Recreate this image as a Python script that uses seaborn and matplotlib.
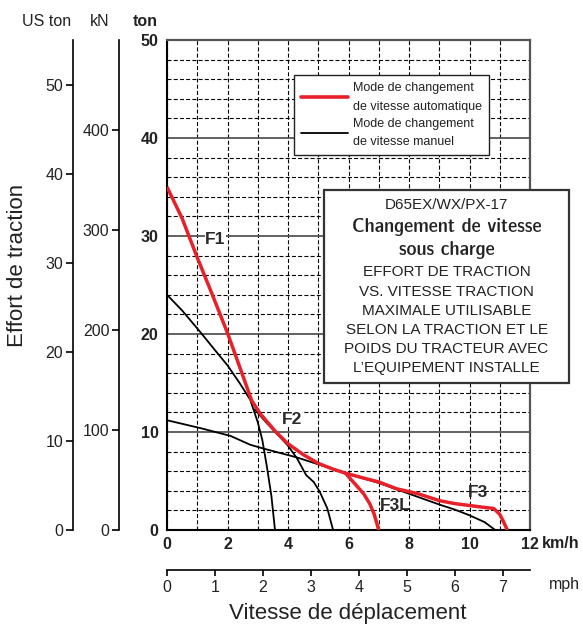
import seaborn as sns
import matplotlib.pyplot as plt
from matplotlib.lines import Line2D
from matplotlib.patches import Rectangle
from matplotlib.ticker import MultipleLocator
from matplotlib import font_manager

# curves: speed in km/h, traction effort in metric ton
auto_x = [0, 0.5, 1.0, 1.5, 2.0, 2.5, 2.8, 3.1, 3.6, 4.0, 4.5, 5.0, 5.5, 5.9,
          6.5, 7.0, 7.6, 8.3, 9.0, 9.5, 10.0, 10.5, 10.8, 11.0, 11.1, 11.25]
auto_y = [35, 31.8, 27.8, 24.0, 20.1, 15.8, 13.2, 11.8, 10.0, 8.8, 7.7, 6.8, 6.2, 5.8,
          5.3, 4.9, 4.2, 3.7, 3.0, 2.7, 2.5, 2.3, 2.2, 1.6, 1.0, 0]

auto_f3l_x = [5.9, 6.1, 6.3, 6.5, 6.7, 6.85, 7.0]
auto_f3l_y = [5.8, 5.1, 4.4, 3.7, 2.7, 1.6, 0]

man_f1_x = [0, 0.5, 1.1, 1.6, 2.0, 2.4, 2.75, 3.0, 3.15, 3.3, 3.45, 3.57]
man_f1_y = [24, 22.4, 20.2, 18.3, 16.8, 15.0, 13.3, 11.0, 9.2, 6.5, 3.5, 0]

man_f2_x = [2.9, 3.3, 3.7, 4.0, 4.3, 4.6, 4.85, 5.05, 5.3, 5.49]
man_f2_y = [12.3, 10.9, 9.6, 8.6, 7.3, 5.6, 4.9, 3.9, 2.2, 0]

man_f3_x = [0, 1.1, 2.1, 2.75, 3.2, 4.3, 5.1, 5.9, 7.0, 8.0, 9.0, 9.5, 10.0, 10.5, 10.85]
man_f3_y = [11.2, 10.4, 9.6, 8.7, 8.3, 7.4, 6.6, 5.8, 4.8, 3.7, 2.6, 2.1, 1.5, 0.8, 0]

gear_labels = ['F1', 'F2', 'F3L', 'F3']
gear_x = [1.6, 4.13, 7.54, 10.28]
gear_y = [29.6, 11.3, 2.55, 3.8]

kmh_ticks = [0, 2, 4, 6, 8, 10, 12]
ton_ticks = [0, 10, 20, 30, 40, 50]
kn_ticks = [0, 100, 200, 300, 400]
uston_ticks = [0, 10, 20, 30, 40, 50]
mph_ticks = [0, 1, 2, 3, 4, 5, 6, 7]

box_lines = ['D65EX/WX/PX-17', 'Changement de vitesse', 'sous charge',
             'EFFORT DE TRACTION', 'VS. VITESSE TRACTION', 'MAXIMALE UTILISABLE',
             'SELON LA TRACTION ET LE', 'POIDS DU TRACTEUR AVEC',
             'L\u2019EQUIPEMENT INSTALLE']

RED = '#e8202a'

sns.set_theme(style='white')
plt.rcParams['font.family'] = ['Liberation Sans', 'DejaVu Sans']

# look for a condensed bold face for the box heading
narrow = None
for f in font_manager.fontManager.ttflist:
    if f.stretch in ('condensed', 'semi-condensed') or 'Narrow' in f.name or 'Condensed' in f.name:
        if f.weight in ('bold', 700, 'demibold', 600):
            narrow = f.fname
            if 'Liberation' in f.name:
                break

W, H = 583, 626
fig = plt.figure(figsize=(W / 100, H / 100), dpi=100)
ax = fig.add_axes([167 / W, 1 - 530 / H, (530 - 167) / W, (530 - 40) / H])

#manual curves first, red on top
for xs, ys in [(man_f1_x, man_f1_y), (man_f2_x, man_f2_y), (man_f3_x, man_f3_y)]:
    sns.lineplot(x=xs, y=ys, ax=ax, color='black', lw=1.3, sort=False,
                 estimator=None, legend=False, zorder=3)
for xs, ys in [(auto_x, auto_y), (auto_f3l_x, auto_f3l_y)]:
    sns.lineplot(x=xs, y=ys, ax=ax, color=RED, lw=2.5, sort=False,
                 estimator=None, legend=False, zorder=4,
                 solid_capstyle='butt', solid_joinstyle='round')

ax.set_xlim(0, 12)
ax.set_ylim(0, 50)
ax.set_xticks(kmh_ticks)
ax.xaxis.set_minor_locator(MultipleLocator(1))
ax.set_yticks(ton_ticks)
ax.yaxis.set_minor_locator(MultipleLocator(2))
ax.tick_params(which='both', length=0)
ax.tick_params(axis='x', pad=5, labelsize=11.5)
ax.tick_params(axis='y', pad=6, labelsize=11.5)
for lab in ax.get_xticklabels() + ax.get_yticklabels():
    lab.set_fontweight('bold')
    lab.set_color('#222')

dash = (0, (3.6, 2.0))
ax.grid(which='major', axis='y', color='#555', lw=1.3, ls='-')
ax.grid(which='minor', axis='y', color='black', lw=0.8, ls=dash)
ax.grid(which='both', axis='x', color='black', lw=0.8, ls=dash)
ax.set_axisbelow(True)

for side in ['left', 'bottom']:
    ax.spines[side].set_color('black')
    ax.spines[side].set_linewidth(1.5)
for side in ['top', 'right']:
    ax.spines[side].set_color('#555')
    ax.spines[side].set_linewidth(1.6)

# extra scales
kn = ax.secondary_yaxis(-(167 - 119) / 363, functions=(lambda t: t * 9.80665, lambda k: k / 9.80665))
us = ax.secondary_yaxis(-(167 - 73) / 363, functions=(lambda t: t * 1.10231, lambda u: u / 1.10231))
kn.set_yticks(kn_ticks)
us.set_yticks(uston_ticks)
for sec in [kn, us]:
    sec.yaxis.set_ticks_position('left')
    sec.tick_params(length=5, width=1.2, direction='out', pad=2, labelsize=11.5,
                    labelcolor='#222', color='black')
    sec.spines['right'].set_visible(False)
    sec.spines['left'].set_linewidth(1.2)
    sec.spines['left'].set_color('black')

mph = ax.secondary_xaxis(-(570 - 530) / 490, functions=(lambda k: k / 1.585, lambda m: m * 1.585))
mph.set_xticks(mph_ticks)
mph.xaxis.set_ticks_position('bottom')
mph.tick_params(length=4, width=1.2, direction='out', pad=3, labelsize=11.5,
                labelcolor='#222', color='black')
mph.spines['top'].set_visible(False)
mph.spines['bottom'].set_linewidth(1.2)
mph.spines['bottom'].set_color('black')

# gear labels
for lab, gx, gy in zip(gear_labels, gear_x, gear_y):
    ax.text(gx, gy, lab, ha='center', va='center', fontsize=12.5, fontweight='bold',
            color='#2a2a2a', zorder=5,
            bbox=dict(facecolor='white', edgecolor='none', pad=0.3) if lab in ('F1', 'F2') else None)

# legend
handles = [Line2D([], [], color=RED, lw=2.6), Line2D([], [], color='black', lw=1.3)]
labels = ['Mode de changement\nde vitesse automatique', 'Mode de changement\nde vitesse manuel']
leg = ax.legend(handles, labels, loc='upper left', bbox_to_anchor=((294 - 167) / 363, (530 - 75) / 490),
                frameon=True, fancybox=False, framealpha=1, edgecolor='#222', fontsize=9,
                handlelength=3.8, handletextpad=0.35, borderpad=0.55, labelspacing=0.4,
                borderaxespad=0)
leg.get_frame().set_linewidth(1.0)
for t in leg.get_texts():
    t.set_color('#222')
    t.set_linespacing(1.75)

# info box
fig.add_artist(Rectangle((324 / W, 1 - 383 / H), (569 - 324) / W, (383 - 190) / H,
                         transform=fig.transFigure, facecolor='white', edgecolor='#333',
                         lw=1.6, zorder=5))
line_y = [205, 227, 250, 272, 292, 311, 330, 349, 368]
for i, (txt, py) in enumerate(zip(box_lines, line_y)):
    kw = dict(fontsize=11, color='#222')
    if i in (1, 2):
        if narrow:
            kw = dict(fontproperties=font_manager.FontProperties(fname=narrow, size=15),
                      color='#222')
        else:
            kw = dict(fontsize=12.3, fontweight='bold', color='#222')
    fig.text(446.5 / W, 1 - py / H, txt, ha='center', va='center', zorder=6, **kw)

# axis titles and units
fig.text(47 / W, 1 - 22 / H, 'US ton', ha='center', va='center', fontsize=11.5, color='#222')
fig.text(100 / W, 1 - 22 / H, 'kN', ha='center', va='center', fontsize=11.5, color='#222')
fig.text(145 / W, 1 - 22 / H, 'ton', ha='center', va='center', fontsize=11.5,
         fontweight='bold', color='#222')
fig.text(17.5 / W, 1 - 265 / H, 'Effort de traction', rotation=90, ha='center', va='center',
         fontsize=16, color='#222')
fig.text(348 / W, 1 - 614 / H, 'Vitesse de d\u00e9placement', ha='center', va='center',
         fontsize=16, color='#222')
ax.text(1 + (542 - 530) / 363, -(544 - 530) / 490, 'km/h', transform=ax.transAxes,
        ha='left', va='center', fontsize=11.5, fontweight='bold', color='#222')
fig.text(564 / W, 1 - 585 / H, 'mph', ha='center', va='center', fontsize=11.5, color='#222')

fig.savefig('out.png', dpi=100)
